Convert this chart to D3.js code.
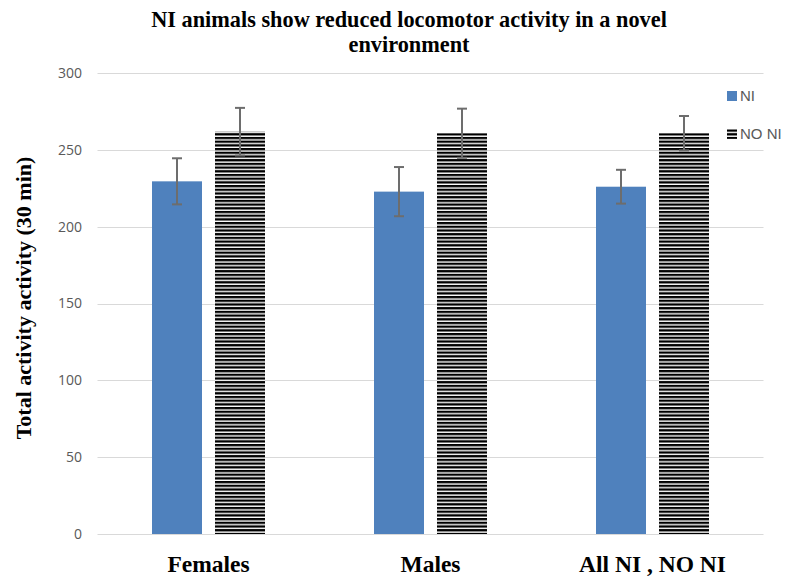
<!DOCTYPE html>
<html><head><meta charset="utf-8">
<script src="https://cdn.jsdelivr.net/npm/d3@7"></script>
<style>body{margin:0;background:#fff}</style>
</head><body>
<svg id="c" width="787" height="576"></svg>
<script>
const categories = ["Females", "Males", "All NI , NO NI"];
const seriesNames = ["NI", "NO NI"];
const valuesNI = [229.5, 222.8, 226.0];
const valuesNONI = [261.8, 260.8, 260.8];
const errNI = [15, 16, 11];
const errNONI = [15.5, 16, 11.2];
const yTicks = [0, 50, 100, 150, 200, 250, 300];

const svg = d3.select("#c");
const m = {l: 97.5, r: 763.5, t: 73, b: 534};
const x = d3.scaleBand().domain(categories).range([m.l, m.r]).paddingInner(0).paddingOuter(0);
const y = d3.scaleLinear().domain([0, 300]).range([m.b, m.t]);
const barW = 50, gap = 13;

const defs = svg.append("defs");
const pat = defs.append("pattern").attr("id", "stripes").attr("patternUnits", "userSpaceOnUse")
  .attr("width", 8).attr("height", 3.7);
pat.append("rect").attr("width", 8).attr("height", 3.7).attr("fill", "#fff");
pat.append("rect").attr("y", 0).attr("width", 8).attr("height", 2.3).attr("fill", "#000");

// gridlines
svg.append("g").selectAll("line").data(yTicks).join("line")
  .attr("x1", m.l).attr("x2", m.r).attr("y1", d => Math.round(y(d)) + 0.5).attr("y2", d => Math.round(y(d)) + 0.5)
  .attr("stroke", "#d9d9d9").attr("stroke-width", 1);

// y tick labels
const yAxis = d3.axisLeft(y).tickValues(yTicks).tickSize(0).tickPadding(0);
const ga = svg.append("g").attr("transform", `translate(82,0)`).call(yAxis);
ga.select(".domain").remove();
ga.selectAll("text").attr("font-family", "'Open Sans', sans-serif").attr("font-size", 14).attr("fill", "#595959");

const data = [valuesNI, valuesNONI];
const errs = [errNI, errNONI];
const fills = ["#4f81bd", "url(#stripes)"];

categories.forEach((c, i) => {
  const cx = x(c) + x.bandwidth() / 2;
  [0, 1].forEach(s => {
    const bx = s === 0 ? cx - gap / 2 - barW : cx + gap / 2;
    const v = data[s][i];
    svg.append("rect").attr("x", bx).attr("y", y(v)).attr("width", barW).attr("height", y(0) - y(v))
      .attr("fill", fills[s]);
    const ex = bx + barW / 2;
    const e = errs[s][i];
    const g = svg.append("g").attr("stroke", "#6d6d6d").attr("stroke-width", 2);
    g.append("line").attr("x1", ex).attr("x2", ex).attr("y1", y(v + e)).attr("y2", y(v - e));
    g.append("line").attr("x1", ex - 5).attr("x2", ex + 5).attr("y1", y(v + e)).attr("y2", y(v + e));
    g.append("line").attr("x1", ex - 5).attr("x2", ex + 5).attr("y1", y(v - e)).attr("y2", y(v - e));
  });
});

// x labels
svg.append("g").selectAll("text").data(categories).join("text")
  .attr("x", d => x(d) + x.bandwidth() / 2).attr("y", 572)
  .attr("text-anchor", "middle").attr("font-family", "'Liberation Serif', serif")
  .attr("font-weight", "bold").attr("font-size", 23.5).attr("fill", "#000").text(d => d);

// title
const title = svg.append("text").attr("text-anchor", "middle").attr("font-family", "'Liberation Serif', serif")
  .attr("font-weight", "bold").attr("font-size", 22.3).attr("fill", "#000");
title.append("tspan").attr("x", 409).attr("y", 27).text("NI animals show reduced locomotor activity in a novel");
title.append("tspan").attr("x", 409).attr("y", 52).text("environment");

// y axis label
svg.append("text").attr("transform", "translate(31,298) rotate(-90)").attr("text-anchor", "middle")
  .attr("font-family", "'Liberation Serif', serif").attr("font-weight", "bold").attr("font-size", 22)
  .attr("fill", "#000").text("Total activity activity (30 min)");

// legend
const leg = svg.append("g");
seriesNames.forEach((n, i) => {
  const ly = 96 + i * 38;
  leg.append("rect").attr("x", 727).attr("y", ly - 5).attr("width", 10).attr("height", 10).attr("fill", fills[i]);
  leg.append("text").attr("x", 740).attr("y", ly + 5).attr("font-family", "'Liberation Sans', sans-serif")
    .attr("font-size", 15).attr("fill", "#595959").text(n);
});
</script>
</body></html>
